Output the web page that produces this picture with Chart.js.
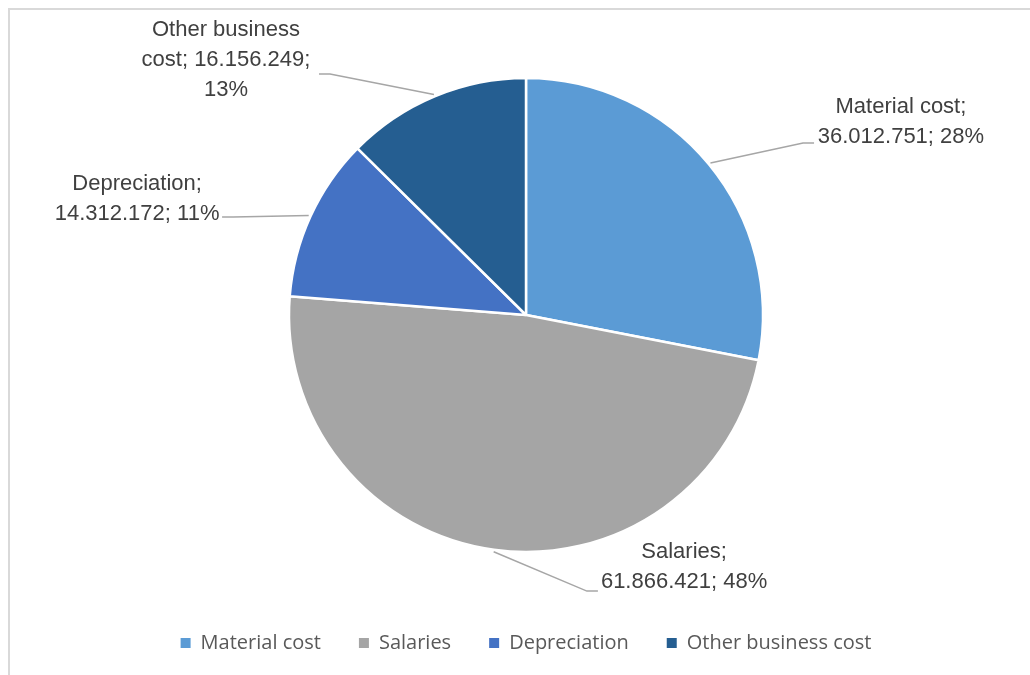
<!DOCTYPE html>
<html>
<head>
  <meta charset="UTF-8">
  <title>Cost structure</title>
  <script src="https://cdn.jsdelivr.net/npm/chart.js@4.4.1/dist/chart.umd.min.js"></script>
  <style>
    html, body { margin: 0; padding: 0; background: #fff; }
    .wrap { position: relative; width: 1030px; height: 675px; overflow: hidden; }
    .frame {
      position: absolute; left: 8px; top: 8px; right: -10px; bottom: -10px;
      border-top: 2px solid #d9d9d9; border-left: 2px solid #d9d9d9;
    }
    canvas { position: absolute; left: 0; top: 0; }
  </style>
</head>
<body>
  <div class="wrap">
    <div class="frame"></div>
    <canvas id="pieChart" width="1030" height="675"></canvas>
  </div>

  <script>
    // data
    const categories = ['Material cost', 'Salaries', 'Depreciation', 'Other business cost'];
    const costs = [36012751, 61866421, 14312172, 16156249];
    const sliceColors = ['#5b9bd5', '#a5a5a5', '#4472c4', '#255e91'];

    // label placement, in units of the pie radius from its centre
    // elbow = where the leader line bends, text = centre of the label block
    const labelElbow = [[1.169, -0.726], [0.257, 1.165], [-1.236, -0.414], [-0.827, -1.017]];
    const labelText = [[1.582, -0.814], [0.667, 1.063], [-1.641, -0.489], [-1.266, -1.076]];

    const total = costs.reduce((a, b) => a + b, 0);

    function fmtDots(n) {
      return String(n).replace(/\B(?=(\d{3})+(?!\d))/g, '.');
    }

    function wrapText(ctx, text, maxWidth) {
      const words = text.split(' ');
      const lines = [];
      let line = '';
      for (const w of words) {
        const test = line ? line + ' ' + w : w;
        if (line && ctx.measureText(test).width > maxWidth) {
          lines.push(line);
          line = w;
        } else {
          line = test;
        }
      }
      if (line) lines.push(line);
      return lines;
    }

    const leaderLabels = {
      id: 'leaderLabels',
      afterDatasetsDraw(chart) {
        const ctx = chart.ctx;
        const meta = chart.getDatasetMeta(0);
        ctx.save();
        ctx.font = '22px "Liberation Sans", Arial, sans-serif';
        meta.data.forEach((arc, i) => {
          const p = arc.getProps(['x', 'y', 'startAngle', 'endAngle', 'outerRadius'], true);
          const r = p.outerRadius;
          const mid = (p.startAngle + p.endAngle) / 2;
          const sx = p.x + Math.cos(mid) * (r + 2);
          const sy = p.y + Math.sin(mid) * (r + 2);
          const ex = p.x + labelElbow[i][0] * r;
          const ey = p.y + labelElbow[i][1] * r;
          const tx = p.x + labelText[i][0] * r;
          const ty = p.y + labelText[i][1] * r;
          const dir = tx > ex ? 1 : -1;

          ctx.strokeStyle = '#a6a6a6';
          ctx.lineWidth = 1.5;
          ctx.beginPath();
          ctx.moveTo(sx, sy);
          ctx.lineTo(ex, ey);
          ctx.lineTo(ex + dir * 11, ey);
          ctx.stroke();

          const pct = Math.round(costs[i] / total * 100);
          const text = categories[i] + '; ' + fmtDots(costs[i]) + '; ' + pct + '%';
          const lines = wrapText(ctx, text, 180);
          const lh = 30;
          ctx.fillStyle = '#404040';
          ctx.textAlign = 'center';
          ctx.textBaseline = 'middle';
          lines.forEach((ln, k) => {
            ctx.fillText(ln, tx, ty + (k - (lines.length - 1) / 2) * lh);
          });
        });
        ctx.restore();
      }
    };

    new Chart(document.getElementById('pieChart'), {
      type: 'pie',
      data: {
        labels: categories,
        datasets: [{
          data: costs,
          backgroundColor: sliceColors,
          borderColor: '#ffffff',
          borderWidth: 2.5
        }]
      },
      options: {
        responsive: false,
        animation: false,
        radius: 237,
        layout: { padding: { left: 22, right: 0, top: 35, bottom: 12 } },
        plugins: {
          tooltip: { enabled: false },
          legend: {
            position: 'bottom',
            labels: {
              boxWidth: 10,
              boxHeight: 10,
              padding: 38,
              color: '#595959',
              font: { family: '"Open Sans", sans-serif', size: 20 },
              generateLabels(chart) {
                const items = Chart.overrides.pie.plugins.legend.labels.generateLabels(chart);
                items.forEach(it => { it.lineWidth = 0; it.strokeStyle = it.fillStyle; });
                return items;
              }
            }
          }
        }
      },
      plugins: [leaderLabels]
    });
  </script>
</body>
</html>
